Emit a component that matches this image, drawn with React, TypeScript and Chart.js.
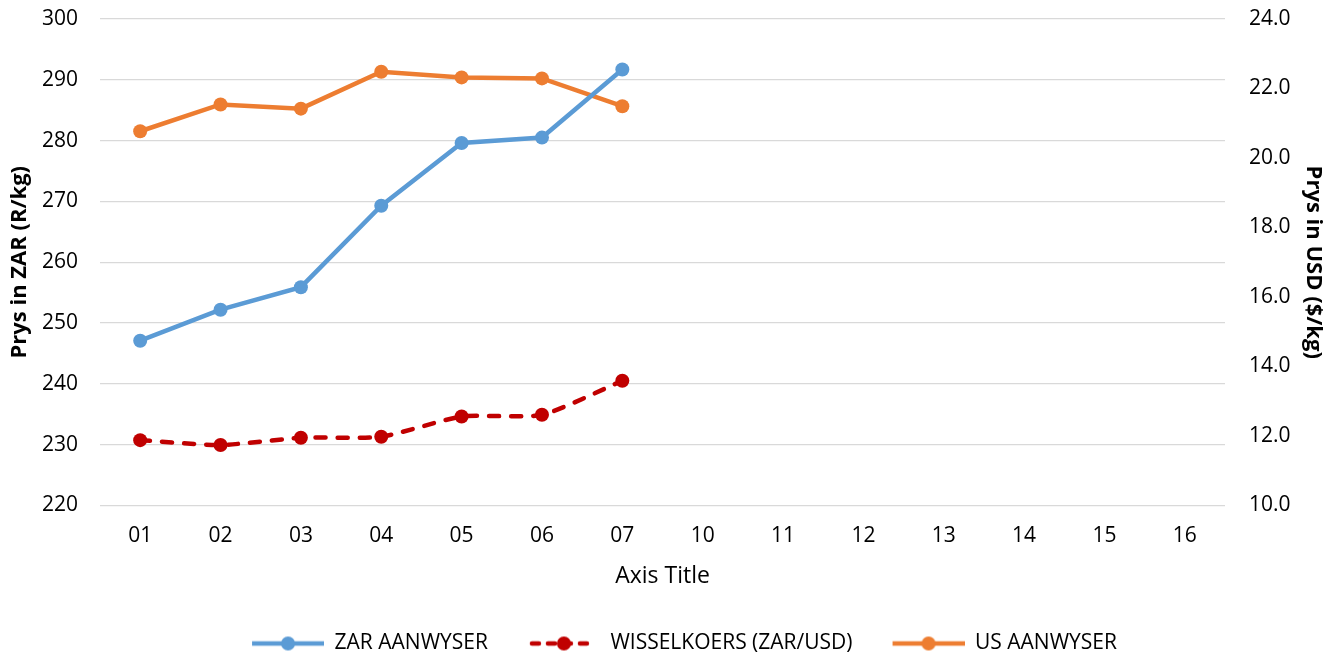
import React, { useEffect, useRef } from "react";
import { Chart, registerables } from "chart.js";

Chart.register(...registerables);

const categories = ["01", "02", "03", "04", "05", "06", "07", "10", "11", "12", "13", "14", "15", "16"];
const zarIndex = [247.1, 252.2, 255.9, 269.3, 279.6, 280.5, 291.7, null, null, null, null, null, null, null];
const exchangeRate = [11.88, 11.74, 11.95, 11.98, 12.56, 12.61, 13.59, null, null, null, null, null, null, null];
const usIndex = [20.77, 21.54, 21.42, 22.48, 22.32, 22.29, 21.49, null, null, null, null, null, null, null];
const seriesNames = ["ZAR AANWYSER", "WISSELKOERS (ZAR/USD)", "US AANWYSER"];
const leftTitle = "Prys in ZAR (R/kg)";
const rightTitle = "Prys in USD ($/kg)";
const xTitle = "Axis Title";

const FONT = "'Open Sans', sans-serif";
const BLUE = "#5B9BD5";
const RED = "#C00000";
const ORANGE = "#ED7D31";

function makeIcon(color: string, dashed: boolean): HTMLCanvasElement {
  const c = document.createElement("canvas");
  c.width = 108;
  c.height = 20;
  const ctx = c.getContext("2d")!;
  ctx.strokeStyle = color;
  ctx.fillStyle = color;
  ctx.lineWidth = 4.5;
  ctx.lineCap = dashed ? "round" : "butt";
  if (dashed) ctx.setLineDash([7, 9]);
  ctx.beginPath();
  ctx.moveTo(dashed ? 40 : 36, 10);
  ctx.lineTo(dashed ? 104 : 108, 10);
  ctx.stroke();
  ctx.setLineDash([]);
  ctx.beginPath();
  ctx.arc(72, 10, 7, 0, Math.PI * 2);
  ctx.fill();
  return c;
}

export default function App() {
  const ref = useRef<HTMLCanvasElement | null>(null);
  useEffect(() => {
    if (!ref.current) return;
    const icons = [makeIcon(BLUE, false), makeIcon(RED, true), makeIcon(ORANGE, false)];
    const chart = new Chart(ref.current, {
      type: "line",
      data: {
        labels: categories,
        datasets: [
          {
            label: seriesNames[0],
            data: zarIndex,
            yAxisID: "y",
            borderColor: BLUE,
            backgroundColor: BLUE,
            borderWidth: 4.5,
            pointRadius: 7,
            pointHoverRadius: 7,
            pointBorderWidth: 0,
            pointBackgroundColor: BLUE,
            tension: 0,
          },
          {
            label: seriesNames[1],
            data: exchangeRate,
            yAxisID: "y1",
            borderColor: RED,
            backgroundColor: RED,
            borderWidth: 4.5,
            borderDash: [10, 12],
            borderCapStyle: "round",
            pointRadius: 7,
            pointHoverRadius: 7,
            pointBorderWidth: 0,
            pointBackgroundColor: RED,
            tension: 0.2,
          },
          {
            label: seriesNames[2],
            data: usIndex,
            yAxisID: "y1",
            borderColor: ORANGE,
            backgroundColor: ORANGE,
            borderWidth: 4.5,
            pointRadius: 7,
            pointHoverRadius: 7,
            pointBorderWidth: 0,
            pointBackgroundColor: ORANGE,
            tension: 0,
          },
        ],
      },
      options: {
        responsive: false,
        animation: false,
        layout: { padding: { top: 19, bottom: -5, left: 0, right: 0 } },
        plugins: {
          tooltip: { enabled: false },
          legend: {
            position: "bottom",
            labels: {
              usePointStyle: true,
              pointStyleWidth: 108,
              padding: 4,
              color: "#000",
              font: { family: FONT, size: 21 },
              generateLabels: (ch: any) =>
                ch.data.datasets.map((ds: any, i: number) => ({
                  text: ds.label,
                  pointStyle: icons[i],
                  fillStyle: ds.borderColor,
                  strokeStyle: ds.borderColor,
                  lineWidth: 0,
                  hidden: false,
                  datasetIndex: i,
                  fontColor: "#000",
                })),
            },
          },
        },
        scales: {
          x: {
            offset: true,
            grid: { display: false, offset: true },
            border: { display: false },
            ticks: { color: "#000", font: { family: FONT, size: 21 }, padding: 10, maxRotation: 0, autoSkip: false },
            title: {
              display: true,
              text: xTitle,
              color: "#000",
              font: { family: FONT, size: 23 },
              padding: { top: 0, bottom: 39 },
            },
            afterFit: (s: any) => {
              s.height = 123.5;
              s.paddingLeft = 0;
              s.paddingRight = 0;
            },
          },
          y: {
            position: "left",
            min: 220,
            max: 300,
            ticks: { stepSize: 10, color: "#000", font: { family: FONT, size: 21 }, padding: 22 },
            grid: { color: "#d9d9d9", lineWidth: 1.3, drawTicks: false },
            border: { display: false },
            title: {
              display: true,
              text: leftTitle,
              color: "#000",
              font: { family: FONT, size: 22, weight: "bold" },
              padding: { top: 7, bottom: 0 },
            },
            afterFit: (s: any) => {
              s.width = 100;
              s.paddingTop = 0;
              s.paddingBottom = 0;
            },
          },
          y1: {
            position: "right",
            min: 10,
            max: 24,
            ticks: {
              stepSize: 2,
              color: "#000",
              font: { family: FONT, size: 21 },
              padding: 24,
              callback: (v: any) => Number(v).toFixed(1),
            },
            grid: { display: false, drawTicks: false },
            border: { display: false },
            title: {
              display: true,
              text: rightTitle,
              color: "#000",
              font: { family: FONT, size: 22, weight: "bold" },
              padding: { top: 7, bottom: 0 },
            },
            afterFit: (s: any) => {
              s.width = 108;
              s.paddingTop = 0;
              s.paddingBottom = 0;
            },
          },
        },
      },
    } as any);
    return () => chart.destroy();
  }, []);
  return (
    <div style={{ position: "absolute", left: 0, top: 0, width: 1333, height: 659, background: "#fff" }}>
      <canvas ref={ref} width={1333} height={659} style={{ display: "block" }} />
    </div>
  );
}
